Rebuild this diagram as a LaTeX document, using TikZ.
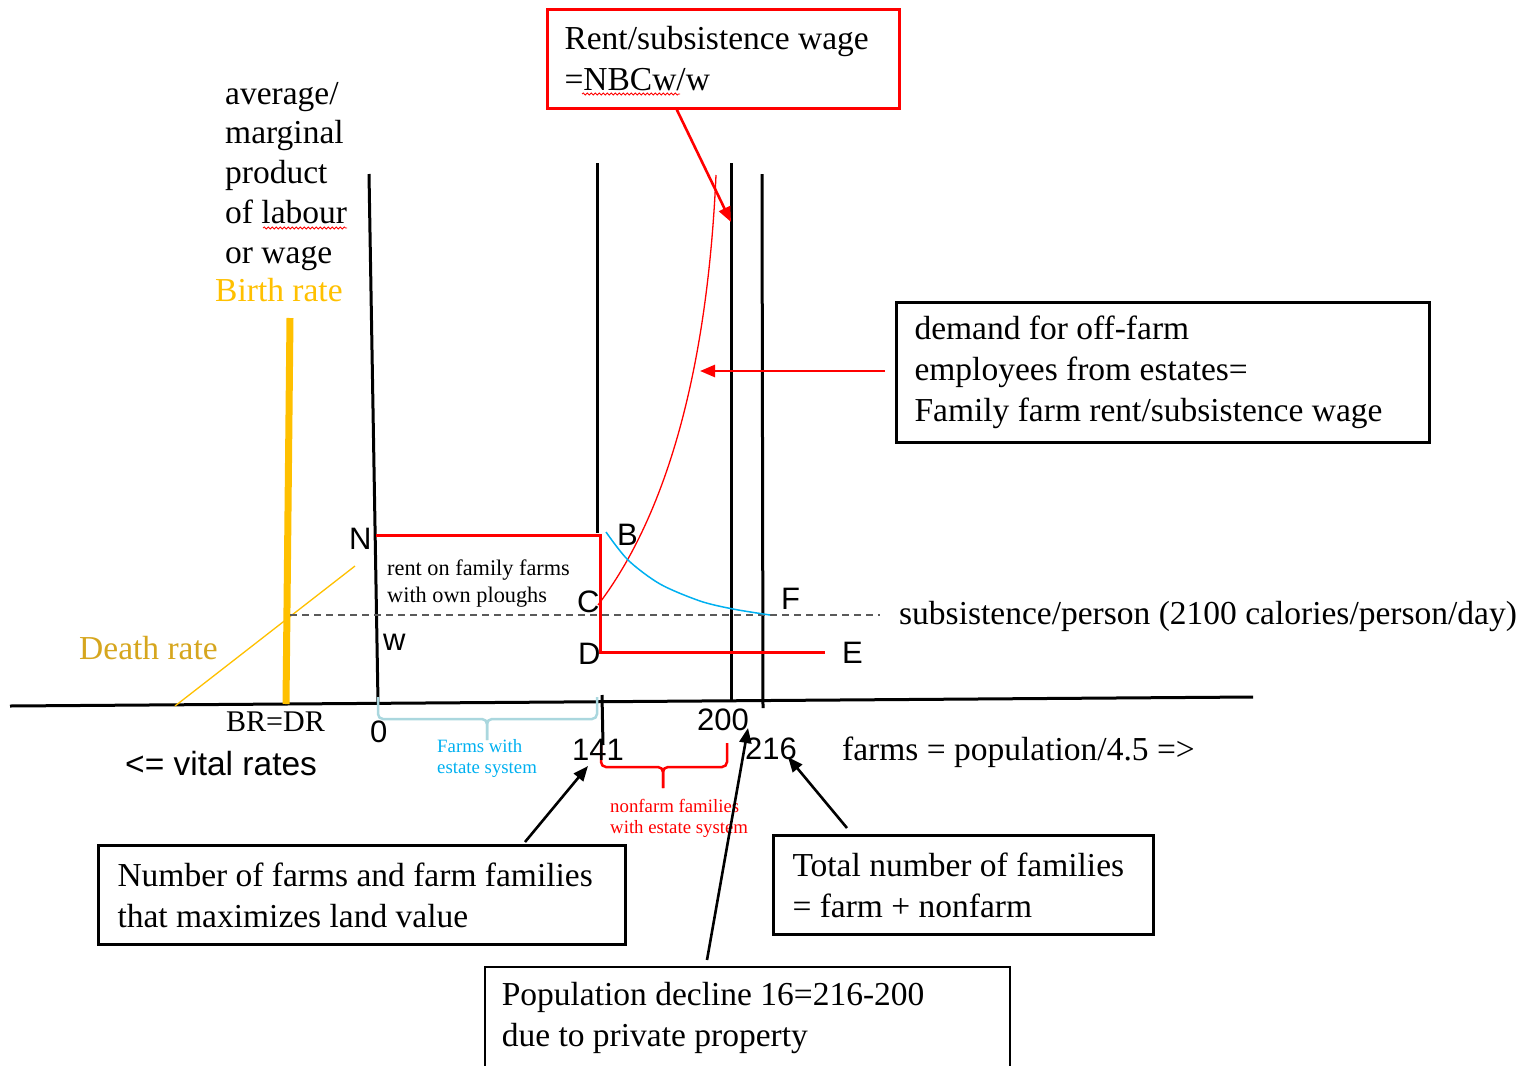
\documentclass[tikz,border=0pt]{standalone}
\usepackage{fontspec}
\setmainfont{Liberation Serif}
\newfontfamily\arialf{Liberation Sans}
\usetikzlibrary{arrows.meta,decorations.pathmorphing,calc}
\definecolor{myred}{RGB}{255,0,0}
\definecolor{skyb}{RGB}{0,176,240}
\definecolor{paleb}{RGB}{170,215,222}
\definecolor{goldc}{RGB}{255,192,0}
\definecolor{darkgold}{RGB}{214,166,30}
\definecolor{dashgray}{RGB}{90,90,90}
\begin{document}
\begin{tikzpicture}[x=1pt,y=-1pt,
 serif/.style={font=\fontsize{33.5}{41}\selectfont, inner sep=0pt, anchor=base west},
 sans/.style={font=\arialf\fontsize{31}{36}\selectfont, inner sep=0pt, anchor=base west},
 smalltxt/.style={font=\fontsize{22.3}{27}\selectfont, inner sep=0pt, anchor=base west},
 tinytxt/.style={font=\fontsize{18.8}{21}\selectfont, inner sep=0pt, anchor=base west},
 thickl/.style={line width=3pt},
 box/.style={draw, line width=3pt, align=flush left, inner ysep=0pt, font=\fontsize{33.5}{41}\selectfont, anchor=north west},
 arr/.style={line width=2.6pt, -{Triangle[length=15pt,width=12pt]}},
 brace/.style={line width=2.5pt, rounded corners=5pt},
 wavy/.style={myred, line width=0.8pt, decorate, decoration={snake, amplitude=1pt, segment length=4pt}},
]
\useasboundingbox (0,0) rectangle (1535,1066);

% axes and lines
\draw[thickl] (10,706) -- (1253,697);
\draw[thickl] (369,174) -- (378,702);
\draw[thickl] (597,163) -- (597,533);
\draw[thickl] (731,163) -- (731,700);
\draw[thickl] (762,174) -- (763,708);
\draw[thickl] (602,695) -- (603,745);

% vital rates
\draw[goldc, line width=7pt] (290,318) -- (286,704);
\draw[goldc, line width=1.3pt] (175,706) -- (355,566);

% subsistence dashed line
\draw[dashgray, line width=1.5pt, dash pattern=on 7pt off 5pt] (290,615) -- (880,615);

% red rent frame
\draw[myred, line width=3pt] (376,535) -- (600,535) -- (600,652) -- (825,652);

% curves
\draw[myred, line width=1.3pt] (598,605) .. controls (655,530) and (706,400) .. (716,175);
\draw[skyb, line width=1.5pt] plot[smooth] coordinates {(606,532) (628,560) (660,584) (700,601) (733,609) (770,615)};

% braces
\draw[paleb, brace] (378,697) |- (487,719) -- (487,740);
\draw[paleb, brace] (487,740) -- (487,719) -| (597,697);
\draw[myred, brace] (601,745) |- (663,767) -- (663,788);
\draw[myred, brace] (663,788) -- (663,767) -| (727,743);

% left labels
\node[serif] (l1) at (225,104) {average/};
\node[serif] (l2) at (225,143) {marginal};
\node[serif] (l3) at (225,183) {product};
\node[serif] (l4) at (225,223) {of labour};
\node[serif] (l5) at (225,263) {or wage};
\node[serif, text=goldc] (br) at (215,301) {Birth rate};
\node[serif, text=darkgold] (dr) at (79,659) {Death rate};
\node[font=\fontsize{30}{36}\selectfont, inner sep=0pt, anchor=base west] (brdr) at (226,731) {BR=DR};
\node[sans, font=\arialf\fontsize{33.5}{36}\selectfont] (vital) at (125,775) {<= vital rates};
\draw[wavy] (263,228) -- (347,228);

% point labels
\node[sans] (N) at (349,549) {N};
\node[sans] (w) at (383,650) {w};
\node[sans] (B) at (617,545) {B};
\node[sans] (C) at (577,612) {C};
\node[sans] (D) at (578,664) {D};
\node[sans] (F) at (781,609) {F};
\node[sans] (E) at (842,663) {E};
\node[sans] (z0) at (370,742) {0};
\node[sans] (n141) at (572,760) {141};
\node[sans] (n200) at (697,730) {200};
\node[sans] (n216) at (745,759) {216};

\node[smalltxt] (rent1) at (387,575) {rent on family farms};
\node[smalltxt] (rent2) at (387,602) {with own ploughs};
\node[tinytxt, text=skyb] (fw1) at (437,752) {Farms with};
\node[tinytxt, text=skyb] (fw2) at (437,773) {estate system};
\node[tinytxt, text=myred] (nf1) at (610,812) {nonfarm families};
\node[tinytxt, text=myred] (nf2) at (610,833) {with estate system};

\node[serif] (subs) at (899,624) {subsistence/person (2100 calories/person/day)};
\node[serif] (farms) at (842,760) {farms = population/4.5 =>};

% boxes
\node[box, draw=myred, text width=318pt, inner xsep=17pt, minimum height=99pt] (rbox) at (546,8) {Rent/subsistence wage\\=NBCw/w};
\draw[wavy] (582,94) -- (680,94);
\node[box, text width=497pt, inner xsep=18pt, minimum height=140pt] (dbox) at (895,301) {demand for off-farm\\employees from estates=\\Family farm rent/subsistence wage};
\node[box, text width=489pt, inner xsep=19pt, minimum height=99pt] (fbox) at (97,844) {Number of farms and farm families\\that maximizes land value};
\node[box, text width=342pt, inner xsep=19pt, minimum height=99pt] (tbox) at (772,834) {Total number of families\\= farm + nonfarm};
\node[box, line width=1.5pt, text width=491pt, inner xsep=17pt, minimum height=103pt] (pbox) at (484,966) {Population decline 16=216-200\\due to private property};

% arrows
\coordinate (s1) at (676,108);
\coordinate (t1) at (731,222);
\coordinate (s2) at (885,371);
\coordinate (t2) at (700,371);
\coordinate (s3) at (525,842);
\coordinate (t3) at (588,766);
\coordinate (s4) at (707,960);
\coordinate (t4) at (748,728);
\coordinate (s5) at (847,828);
\coordinate (t5) at (788,757);
\draw[arr, myred] (s1) -- (t1);
\draw[arr, myred] (s2) -- (t2);
\draw[arr] (s3) -- (t3);
\draw[arr] (s4) -- (t4);
\draw[arr] (s5) -- (t5);
\end{tikzpicture}
\end{document}
